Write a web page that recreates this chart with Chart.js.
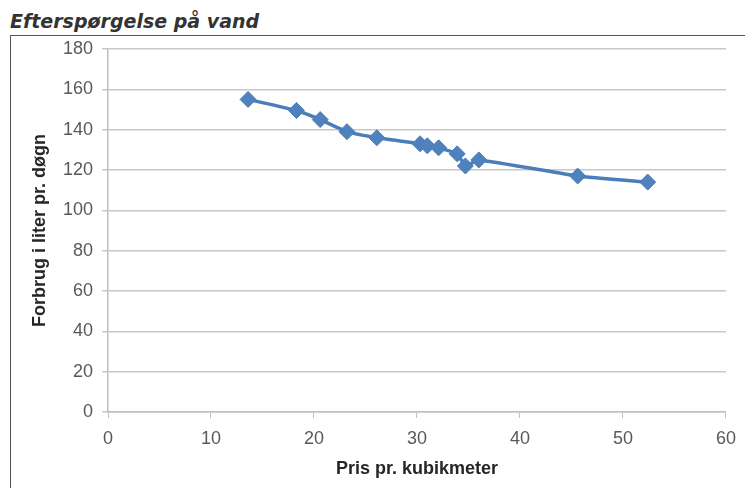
<!DOCTYPE html>
<html>
<head>
<meta charset="utf-8">
<script src="https://cdn.jsdelivr.net/npm/chart.js@4"></script>
<style>
    body { margin: 0; background: #fff; width: 745px; height: 488px; overflow: hidden; }
    #title {
        position: absolute; left: 10px; top: 10px;
        font-family: "DejaVu Sans", sans-serif; font-weight: bold; font-style: italic;
        font-size: 19px; color: #333;
    }
    #frame {
        position: absolute; left: 10px; top: 35px; width: 735px; height: 453px;
        border-top: 1px solid #555; border-left: 1px solid #555;
    }
</style>
</head>
<body>
<div id="title">Efterspørgelse på vand</div>
<div id="frame"><canvas id="waterChart"></canvas></div>
<script>
// price per m3 vs. consumption (litres per day)
var prices = [13.6, 18.3, 20.6, 23.2, 26.1, 30.3, 31.0, 32.1, 33.9, 34.7, 36.0, 45.6, 52.4];
var consumption = [155, 149.5, 145, 139, 136, 133, 132, 131, 128, 122, 125, 117, 114];

var xTicks = [0, 10, 20, 30, 40, 50, 60];
var yTicks = [0, 20, 40, 60, 80, 100, 120, 140, 160, 180];

var points = [];
prices.forEach(function(p, i) {
    points.push({ x: p, y: consumption[i] });
});

var tickFont = { family: 'Liberation Sans', size: 18 };
var titleFont = { family: 'Liberation Sans', size: 18, weight: 'bold' };

var ctx = document.getElementById("waterChart").getContext("2d");
new Chart(ctx, {
    type: 'scatter',
    data: {
        datasets: [{
            data: points,
            showLine: true,
            borderColor: '#4a7ebb',
            backgroundColor: '#4f81bd',
            borderWidth: 3.5,
            tension: 0.15,
            pointStyle: 'rectRot',
            pointRadius: 8,
            pointHoverRadius: 8,
            pointBorderWidth: 1,
            pointBorderColor: '#4a7ebb'
        }]
    },
    options: {
        responsive: true,
        maintainAspectRatio: false,
        animation: false,
        layout: { padding: { left: 0, right: 18, top: 13, bottom: 0 } },
        plugins: {
            legend: { display: false },
            tooltip: { enabled: false }
        },
        scales: {
            x: {
                type: 'linear',
                min: 0, max: 60,
                afterBuildTicks: function(scale) {
                    scale.ticks = xTicks.map(function(v) { return { value: v }; });
                },
                afterFit: function(scale) { scale.height = 77; },
                grid: { drawOnChartArea: false, color: '#bfbfbf', tickLength: 6 },
                border: { color: '#bfbfbf', width: 1.5 },
                ticks: { color: '#595959', font: tickFont, padding: 10, maxRotation: 0 },
                title: { display: true, text: 'Pris pr. kubikmeter', color: '#262626', font: titleFont, padding: { top: 0, bottom: 9 } }
            },
            y: {
                min: 0, max: 180,
                afterBuildTicks: function(scale) {
                    scale.ticks = yTicks.map(function(v) { return { value: v }; });
                },
                afterFit: function(scale) {
                    scale.width = 97;
                    scale.paddingTop = 0;
                    scale.paddingBottom = 0;
                },
                grid: { color: '#c8c8c8', lineWidth: 1.5, tickLength: 6 },
                border: { color: '#bfbfbf', width: 1.5 },
                ticks: { color: '#595959', font: tickFont, padding: 9 },
                title: { display: true, text: 'Forbrug i liter pr. døgn', color: '#262626', font: titleFont, padding: { top: 18, bottom: 0 } }
            }
        }
    }
});
</script>
</body>
</html>
